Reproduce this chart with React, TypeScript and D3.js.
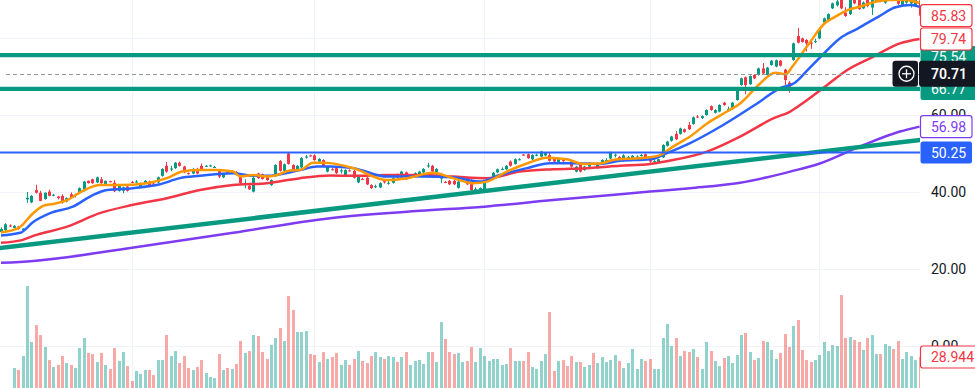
import React from 'react';
import * as d3 from 'd3';

const W = 975;
const H = 388;
const PLOT_R = 920;

// [open, high, low, close]
const OHLC: [number, number, number, number][] = [
  [29.6,30.8,29.3,30.4],[30.1,31.9,29.9,31.6],[31.3,31.6,30.9,31.1],[30.7,31.4,30.5,31.2],[31.0,31.2,30.2,30.4],
  [30.1,30.6,29.9,30.5],[38.1,40.0,37.2,38.5],[37.3,39.2,37.1,39.0],[40.5,41.9,39.6,39.8],[39.8,40.3,37.6,37.7],
  [38.2,39.9,38.0,39.8],[40.1,40.6,38.9,39.0],[39.1,39.5,38.9,39.3],[38.8,39.0,38.1,38.4],[39.0,39.4,37.0,37.3],
  [37.5,38.6,37.3,38.4],[39.4,39.9,38.3,38.5],[39.2,39.6,38.6,39.4],[39.8,41.2,39.6,41.0],[40.3,42.9,40.1,42.7],
  [42.9,43.0,42.2,42.3],[43.3,43.5,42.1,42.3],[42.5,44.0,42.3,43.8],[43.3,43.9,42.1,42.3],[41.8,43.0,41.6,42.9],
  [42.8,42.9,42.5,42.6],[42.4,43.1,40.0,40.2],[40.3,42.0,40.1,41.8],[40.3,41.4,39.7,41.2],[41.4,41.6,40.1,40.3],
  [42.6,42.9,42.3,42.5],[42.6,43.1,42.4,42.7],[41.4,42.5,41.2,42.3],[42.3,43.1,42.1,42.9],[42.7,43.0,41.6,41.8],
  [42.2,42.4,41.9,42.1],[42.5,44.0,42.3,43.8],[44.2,46.2,44.0,46.0],[46.8,47.8,45.0,45.3],[45.9,46.8,45.4,46.1],
  [46.2,47.8,46.0,47.6],[47.6,47.9,46.6,46.8],[46.6,46.8,44.9,45.1],[44.9,45.1,44.5,44.8],[44.8,46.2,44.6,46.0],
  [46.0,46.3,44.6,44.8],[46.8,47.4,45.5,45.7],[46.7,47.0,46.5,46.8],[46.8,47.1,46.6,46.9],[46.4,46.8,46.2,46.5],
  [45.7,46.0,43.6,44.0],[43.8,45.0,43.6,44.8],[45.1,45.4,44.8,45.0],[45.1,45.5,44.9,45.2],[45.2,45.4,44.3,44.5],
  [44.2,44.4,41.8,42.3],[41.9,43.3,41.0,42.1],[41.6,41.8,40.5,40.7],[40.1,43.9,39.9,43.7],[44.8,45.0,43.4,43.6],
  [44.6,44.8,43.2,43.4],[44.0,44.2,42.9,43.1],[41.8,43.3,41.6,43.1],[44.2,47.2,44.0,47.0],[48.0,48.3,45.3,45.5],
  [45.5,47.4,45.3,47.2],[50.0,50.3,47.1,47.3],[47.0,47.2,45.3,45.5],[45.7,47.0,45.5,46.8],[46.4,49.0,46.2,48.8],
  [49.0,49.6,48.7,49.2],[49.5,49.7,49.2,49.4],[49.5,49.8,48.1,48.3],[47.9,48.8,47.7,48.6],[48.3,48.5,46.5,46.7],
  [45.3,46.8,45.1,46.6],[45.9,46.2,45.6,45.8],[46.2,46.4,44.7,44.9],[45.4,46.1,44.8,45.6],[44.2,45.9,44.0,45.7],
  [45.6,45.9,45.3,45.5],[45.5,45.7,43.5,43.7],[42.5,44.2,42.3,44.0],[43.4,43.7,43.1,43.3],[43.7,43.9,41.8,42.0],
  [41.8,42.0,40.8,41.0],[41.4,41.9,41.0,41.5],[41.2,42.5,41.0,42.3],[42.8,43.0,42.2,42.5],[42.2,42.8,41.9,42.4],
  [42.4,43.8,42.2,43.6],[44.6,44.8,43.5,43.8],[43.8,45.5,43.6,45.3],[45.1,45.3,43.1,43.3],[43.9,44.3,43.7,44.0],
  [44.2,45.1,44.0,44.9],[44.6,45.5,44.4,45.3],[45.1,46.2,44.9,46.0],[46.7,47.6,46.3,46.9],[46.8,47.0,45.1,45.3],
  [44.6,46.2,44.4,46.0],[43.5,45.0,42.3,44.6],[42.6,42.9,42.3,42.5],[42.9,43.1,41.8,42.0],[42.9,43.1,41.8,42.0],
  [41.1,42.9,40.9,42.7],[42.9,43.9,42.7,43.7],[43.7,43.9,41.8,42.0],[42.3,43.3,39.6,40.5],[40.7,41.2,40.3,40.8],
  [40.3,41.2,40.1,41.0],[40.5,42.6,40.3,42.4],[43.0,43.6,42.8,43.2],[44.0,45.2,43.8,45.0],[45.1,46.1,44.9,45.9],
  [45.9,46.4,45.7,46.0],[45.9,47.0,45.7,46.8],[47.9,48.2,46.6,46.8],[47.3,48.7,47.1,48.5],[48.4,48.8,48.2,48.5],
  [49.7,49.9,49.4,49.6],[49.8,50.0,48.6,48.8],[48.5,49.8,48.3,49.6],[49.5,50.0,49.3,49.7],[49.2,50.7,49.0,50.5],
  [49.5,50.4,49.3,50.2],[49.6,50.3,47.9,48.1],[48.8,49.0,47.7,47.9],[47.6,48.7,47.4,48.5],[48.3,48.5,47.8,48.0],
  [48.6,48.8,48.3,48.5],[47.9,48.1,46.4,46.6],[45.3,46.8,45.1,46.6],[47.3,47.5,45.1,45.3],[45.7,46.8,45.5,46.6],
  [46.6,47.8,46.4,47.6],[47.4,47.6,47.1,47.3],[46.2,47.7,46.0,47.5],[47.5,48.5,47.3,48.3],[48.2,48.8,48.0,48.3],
  [48.7,50.5,48.5,50.2],[49.6,50.0,49.0,49.7],[49.1,49.4,48.7,48.9],[48.0,49.8,47.8,49.5],[49.0,49.4,48.8,49.1],
  [48.7,49.6,48.5,49.4],[49.1,49.5,48.9,49.2],[49.4,49.9,49.2,49.6],[49.8,50.0,48.8,49.0],[49.0,49.2,47.6,47.9],
  [47.9,48.5,47.4,48.0],[47.6,48.7,47.4,48.5],[49.0,52.4,48.8,52.2],[52.0,53.3,51.8,53.1],[53.3,54.6,53.1,54.4],
  [55.1,55.8,53.5,53.7],[55.1,56.7,54.9,56.5],[56.3,56.5,55.4,55.6],[57.4,58.2,56.1,56.3],[57.7,59.6,57.5,59.4],
  [59.6,60.0,59.2,59.5],[59.2,59.9,59.0,59.7],[60.0,61.5,59.8,61.3],[62.3,62.5,61.1,61.3],[60.6,61.5,60.4,61.3],
  [60.9,62.8,60.7,62.6],[63.2,63.4,62.4,62.6],[61.5,62.2,61.0,61.6],[61.7,63.4,61.5,63.2],[63.9,66.7,63.7,66.5],
  [67.8,69.7,67.6,69.5],[69.8,70.0,65.4,67.8],[68.0,70.3,67.8,70.1],[70.4,70.6,69.3,69.5],[70.4,72.3,70.2,72.1],
  [72.1,73.5,70.6,70.8],[70.4,72.5,70.2,72.3],[73.0,74.3,72.8,74.1],[72.6,74.4,72.4,74.2],[74.1,74.3,72.6,72.8],
  [71.8,72.0,67.8,69.1],[68.4,68.8,65.8,66.5],[74.3,78.8,74.1,78.6],[80.5,82.6,78.6,78.8],[79.9,80.1,78.8,79.0],
  [79.5,79.7,76.5,78.6],[78.8,79.5,77.2,78.7],[79.0,79.8,78.7,79.2],[79.9,82.5,79.7,82.3],[84.0,85.3,83.8,85.1],
  [84.5,86.4,84.3,86.2],[87.7,89.2,87.5,89.0],[88.5,90.5,88.2,89.5],[90.0,91.0,87.5,87.7],[86.6,88.0,85.5,85.7],
  [86.2,90.5,86.0,90.0],[90.6,91.5,88.8,89.0],[90.0,90.6,87.3,87.5],[87.7,89.5,87.5,89.2],[90.2,91.0,88.0,88.3],
  [87.9,90.2,86.0,89.9],[89.5,91.2,89.3,90.8],[91.0,91.8,89.3,89.6],[89.2,91.0,88.9,90.6],[90.2,91.5,90.0,91.2],
  [91.3,91.8,89.8,90.1],[90.4,90.8,88.6,88.9],[88.6,90.3,88.4,90.0],[89.2,90.6,88.9,90.3],[89.0,90.0,87.9,89.6],
  [88.4,90.2,88.2,89.9],[89.8,90.3,85.4,85.83],
];

const VOLUME: (number | null)[] = [
  null, null, null,
  18.7,16.8,29.9,95.2,43.0,58.8,49.5,38.3,26.1,19.6,21.5,29.9,23.3,21.5,18.7,37.3,46.7,32.7,31.7,24.3,
  32.7,21.5,17.7,37.3,25.2,33.6,20.5,6.5,15.9,13.1,16.8,16.8,12.1,26.1,26.1,49.5,29.9,34.5,23.3,29.9,
  18.7,16.8,19.6,26.1,14.0,10.3,9.3,31.7,16.8,18.7,17.7,22.4,43.9,32.7,34.5,49.5,48.6,33.6,27.1,40.1,
  46.7,56.0,43.9,85.9,72.8,52.3,52.3,53.2,31.7,30.8,24.3,33.6,27.1,28.9,32.7,21.5,26.1,21.5,27.1,34.5,
  25.2,23.3,29.9,33.6,28.9,27.1,29.9,28.9,24.3,28.9,33.6,21.5,25.2,26.1,22.4,33.6,33.6,24.3,61.6,45.8,
  33.6,31.7,32.7,24.3,25.2,38.3,24.3,37.3,29.9,25.2,
  27.1,27.1,21.5,22.4,37.3,25.2,25.2,25.2,33.6,19.6,17.7,25.2,31.7,71.0,15.9,25.2,26.1,20.5,29.9,24.3,
  24.3,19.6,21.5,32.7,23.3,28.9,24.3,26.1,30.8,25.2,18.7,23.3,36.4,17.7,27.1,25.2,27.1,17.7,17.7,46.7,
  59.8,39.2,46.7,29.9,34.5,33.6,36.4,28.9,17.7,43.0,34.5,25.2,20.5,28.0,29.9,23.3,30.8,49.5,51.4,33.6,
  26.1,28.0,43.9,43.0,35.5,27.1,32.7,50.4,38.3,57.9,63.5,35.5,26.1,24.3,26.1,30.8,43.0,34.5,40.1,39.2,
  86.8,46.7,47.6,44.8,43.0,35.5,46.7,49.5,31.7,31.7,41.1,39.2,36.4,43.9,27.1,33.6,29.9,26.1,28.944,
];

// moving averages read at sample bars: [bar index, value]
const EMA_FAST: [number, number][] = [
  [0,29.5],[4,30.6],[7.4,34.5],[9.7,36.4],[12,36.9],[15.2,37.9],[18.8,40.3],[22.7,41.8],[27.3,41.8],[33.5,42.3],
  [38.1,43.6],[41.8,45.4],[45.7,45.7],[49.6,45.7],[53.3,45.3],[54.9,44.1],[57.9,44.4],[61.1,44.0],[63.4,44.4],
  [66.4,45.6],[68.7,45.7],[71.7,47.6],[74,47.6],[75.6,47.5],[80.9,46.2],[88.7,43.1],[93.3,43.6],[99.2,45.0],
  [103.8,43.6],[108.4,42.3],[111.6,42.7],[116.2,45.3],[120.8,47.4],[125.4,48.9],[130,48.5],[133.7,47.3],
  [137.6,47.4],[140.6,48.3],[145.2,48.7],[149.1,49.0],[151.4,49.6],[154.4,51.8],[158.3,54.4],[162.2,57.8],
  [166.8,60.9],[169.8,63.0],[174.4,68.2],[177.8,71.0],[180.3,70.6],[181.8,72.6],[185.4,78.2],[189.3,83.9],
  [191.6,85.5],[194.6,87.3],[197.8,88.3],[200.8,89.4],[204.2,89.9],[207.7,89.9],[211,89.1],
];
const EMA_MID: [number, number][] = [
  [0,28.7],[4.4,29.4],[7.4,32.2],[11.3,34.5],[16.5,36.2],[21.1,39.2],[24.4,40.5],[30.3,41.0],[36.5,42.0],
  [41.1,43.6],[45.7,44.2],[53.3,44.9],[57.9,44.2],[61.1,44.2],[68.7,45.7],[72.6,46.6],[75.6,46.6],[80.9,46.2],
  [88.7,44.0],[96.3,44.0],[103.8,43.8],[110,42.7],[114.6,44.4],[120.8,46.2],[126.1,47.5],[131.4,47.5],
  [137.6,47.3],[142.2,48.1],[149.1,48.5],[153,50.1],[158.3,52.7],[165.9,57.4],[173.7,63.0],[178.9,66.9],
  [182.4,68.4],[185.4,71.8],[188.1,74.9],[192.7,79.9],[196.9,82.5],[201.5,85.5],[205.5,88.0],[209,88.6],[211,88.1],
];
const MA_SLOW: [number, number][] = [
  [0,26.8],[4.8,27.5],[7.4,28.6],[15.2,31.0],[22.7,34.5],[30.1,36.6],[38.1,38.4],[45.7,40.5],[53.3,41.8],
  [61.1,42.3],[68.7,43.6],[75.6,44.3],[80.9,44.2],[88.7,44.4],[96.3,44.4],[103.8,44.0],[111.6,43.6],
  [119.2,45.3],[126.8,45.9],[134.6,46.2],[142.2,46.8],[149.1,47.3],[154.4,48.3],[162.2,50.5],[169.8,54.4],
  [177.4,59.1],[181.3,60.9],[185.2,63.9],[189.8,67.8],[194.4,71.7],[200.3,75.1],[206.5,78.6],[211,79.74],
];
const MA_LONG: [number, number][] = [
  [0,21.6],[7.4,22.1],[30.1,25.5],[53.3,29.4],[75.6,33.2],[96.3,35.1],[111,36.2],[126.8,37.9],[149.1,40.1],
  [158.3,41.0],[169.8,42.4],[181.3,45.3],[188.1,47.4],[197.3,51.8],[206.5,55.7],[211,56.98],
];

const TRENDLINE: [number, number][] = [[0, 25.5], [211, 53.5]];
const GREEN_LEVELS = [75.54, 66.77];
const BLUE_LEVEL = 50.25;
const CROSSHAIR_PRICE = 70.71;
const CLOSE_LABEL = 85.83;
const PRICE_TICKS = [0, 20, 40, 60, 80];
const TIME_GRID_BARS = [30, 72, 111, 149, 188];

const UP = '#089981';
const DOWN = '#f23645';
const VOL_UP = 'rgba(38,166,154,0.5)';
const VOL_DOWN = 'rgba(239,83,80,0.5)';
const ORANGE = '#ff9800';
const BLUE = '#2962ff';
const RED = '#f23645';
const PURPLE = '#7e3cf2';
const FONT = "Roboto, 'Noto Sans', sans-serif";

type Label = {
  key: string;
  value: number;
  text: string;
  fill: string;
  stroke: string;
  color: string;
  w: number;
  order: number;
};

export default function App() {
  const n = OHLC.length;
  const x = d3.scaleLinear().domain([0, n - 1]).range([1.0, 919.5]);
  const y = d3.scaleLinear().domain([0, 100]).range([346, -39]);
  const yv = d3.scaleLinear().domain([0, 100]).range([388, 280.9]);

  const line = d3
    .line<[number, number]>()
    .x((d) => x(d[0]))
    .y((d) => y(d[1]))
    .curve(d3.curveMonotoneX);

  const slope = (TRENDLINE[1][1] - TRENDLINE[0][1]) / (TRENDLINE[1][0] - TRENDLINE[0][0]);
  const tStart = -3;
  const tEnd = n + 3;
  const trendPts: [number, number][] = [
    [tStart, TRENDLINE[0][1] + slope * (tStart - TRENDLINE[0][0])],
    [tEnd, TRENDLINE[0][1] + slope * (tEnd - TRENDLINE[0][0])],
  ];

  const labelX = 920.5;
  const labelW = 51.5;
  const textX = 931;
  const LH = 22;

  const lastSlow = MA_SLOW[MA_SLOW.length - 1][1];
  const lastLong = MA_LONG[MA_LONG.length - 1][1];

  // price labels: draw order = order, positions stacked top to bottom
  const labels: Label[] = [
    { key: 'close', value: CLOSE_LABEL, text: CLOSE_LABEL.toFixed(2), fill: '#fff', stroke: RED, color: RED, w: labelW, order: 3 },
    { key: 'ma50', value: lastSlow, text: lastSlow.toFixed(2), fill: '#fff', stroke: RED, color: RED, w: labelW, order: 2 },
    { key: 'g1', value: GREEN_LEVELS[0], text: GREEN_LEVELS[0].toFixed(2), fill: UP, stroke: 'none', color: '#fff', w: 56, order: 1 },
    { key: 'g2', value: GREEN_LEVELS[1], text: GREEN_LEVELS[1].toFixed(2), fill: UP, stroke: 'none', color: '#fff', w: 56, order: 1 },
    { key: 'ma200', value: lastLong, text: lastLong.toFixed(2), fill: '#fff', stroke: PURPLE, color: PURPLE, w: labelW, order: 4 },
    { key: 'blue', value: BLUE_LEVEL, text: BLUE_LEVEL.toFixed(2), fill: BLUE, stroke: 'none', color: '#fff', w: labelW, order: 5 },
  ];
  const sorted = [...labels].sort((a, b) => b.value - a.value);
  const pos: Record<string, number> = {};
  let prevBottom = -Infinity;
  const allowedOverlap = 4;
  sorted.forEach((l) => {
    const c = Math.max(y(l.value), prevBottom + LH / 2 - allowedOverlap);
    pos[l.key] = c;
    prevBottom = c + LH / 2;
  });

  const box = (
    key: string,
    yc: number,
    text: string,
    fill: string,
    stroke: string,
    color: string,
    w: number
  ) => (
    <g key={key}>
      <rect
        x={labelX}
        y={yc - LH / 2}
        width={w}
        height={LH}
        rx={2.5}
        fill={fill}
        stroke={stroke}
        strokeWidth={stroke === 'none' ? 0 : 1.2}
      />
      <text x={textX} y={yc} dy="0.36em" fontSize={14} fill={color} fontFamily={FONT}>
        {text}
      </text>
    </g>
  );

  const lastVol = VOLUME[VOLUME.length - 1] as number;
  const crossY = y(CROSSHAIR_PRICE);

  return (
    <svg
      width={W}
      height={H}
      style={{ position: 'absolute', left: 0, top: 0, background: '#fff' }}
    >
      <defs>
        <clipPath id="plot">
          <rect x={0} y={0} width={PLOT_R} height={H} />
        </clipPath>
      </defs>
      <rect x={0} y={0} width={W} height={H} fill="#fff" />

      {/* grid */}
      <g>
        {PRICE_TICKS.map((t) => (
          <line key={'h' + t} x1={0} x2={PLOT_R} y1={Math.round(y(t)) + 0.5} y2={Math.round(y(t)) + 0.5} stroke="#f0f3fa" strokeWidth={1} />
        ))}
        {TIME_GRID_BARS.map((b) => (
          <line key={'v' + b} x1={Math.round(x(b)) + 0.5} x2={Math.round(x(b)) + 0.5} y1={0} y2={H} stroke="#f0f3fa" strokeWidth={1} />
        ))}
      </g>

      <g clipPath="url(#plot)">
        {/* volume */}
        {VOLUME.map((v, i) => {
          if (v === null) return null;
          const [o, , , c] = OHLC[i];
          const cx = Math.round(x(i));
          const top = yv(v);
          return (
            <rect key={'v' + i} x={cx - 1} y={top} width={3} height={388 - top} fill={c >= o ? VOL_UP : VOL_DOWN} />
          );
        })}

        {/* candles */}
        {OHLC.map(([o, h, l, c], i) => {
          const cx = Math.round(x(i));
          const col = c >= o ? UP : DOWN;
          const top = y(Math.max(o, c));
          const bot = y(Math.min(o, c));
          return (
            <g key={'c' + i}>
              <rect x={cx} y={y(h)} width={1} height={Math.max(1, y(l) - y(h))} fill={col} />
              <rect x={cx - 1} y={top} width={3} height={Math.max(1, bot - top)} fill={col} />
            </g>
          );
        })}

        {/* moving averages */}
        <path d={line(MA_LONG) || ''} fill="none" stroke={PURPLE} strokeWidth={2.5} />
        <path d={line(MA_SLOW) || ''} fill="none" stroke={RED} strokeWidth={2.5} />
        <path d={line(EMA_MID) || ''} fill="none" stroke={BLUE} strokeWidth={2.5} />
        <path d={line(EMA_FAST) || ''} fill="none" stroke={ORANGE} strokeWidth={2.5} />

        {/* drawings */}
        <path d={d3.line<[number, number]>().x((d) => x(d[0])).y((d) => y(d[1]))(trendPts) || ''} stroke={UP} strokeWidth={4.5} fill="none" />
        {GREEN_LEVELS.map((lv) => (
          <line key={'g' + lv} x1={0} x2={PLOT_R} y1={y(lv)} y2={y(lv)} stroke={UP} strokeWidth={4.3} />
        ))}
        <line x1={0} x2={PLOT_R} y1={y(BLUE_LEVEL)} y2={y(BLUE_LEVEL)} stroke={BLUE} strokeWidth={2} />
        <line x1={6} x2={PLOT_R} y1={Math.round(crossY) + 0.5} y2={Math.round(crossY) + 0.5} stroke="#9598a1" strokeWidth={1} strokeDasharray="4 3" />
      </g>

      {/* price axis */}
      <rect x={PLOT_R} y={0} width={W - PLOT_R} height={H} fill="#fff" />
      {PRICE_TICKS.map((t) => (
        <text key={'t' + t} x={textX} y={y(t)} dy="0.36em" fontSize={14} fill="#131722" fontFamily={FONT}>
          {t.toFixed(2)}
        </text>
      ))}

      {[...labels]
        .sort((a, b) => a.order - b.order)
        .map((l) => box(l.key, pos[l.key], l.text, l.fill, l.stroke, l.color, l.w))}
      {box('vol', yv(lastVol), lastVol.toFixed(3), '#fff', RED, RED, 62)}

      {/* crosshair label */}
      <g>
        <rect x={892.5} y={crossY - 13} width={25.5} height={26} rx={3} fill="#131722" />
        <rect x={919} y={crossY - 13} width={60} height={26} rx={3} fill="#131722" />
        <circle cx={906.5} cy={crossY} r={7.5} fill="none" stroke="#fff" strokeWidth={1.3} />
        <line x1={902} x2={911} y1={crossY} y2={crossY} stroke="#fff" strokeWidth={1.3} />
        <line x1={906.5} x2={906.5} y1={crossY - 4.5} y2={crossY + 4.5} stroke="#fff" strokeWidth={1.3} />
        <text x={textX} y={crossY} dy="0.36em" fontSize={14} fontWeight={600} fill="#fff" fontFamily={FONT}>
          {CROSSHAIR_PRICE.toFixed(2)}
        </text>
      </g>
    </svg>
  );
}
